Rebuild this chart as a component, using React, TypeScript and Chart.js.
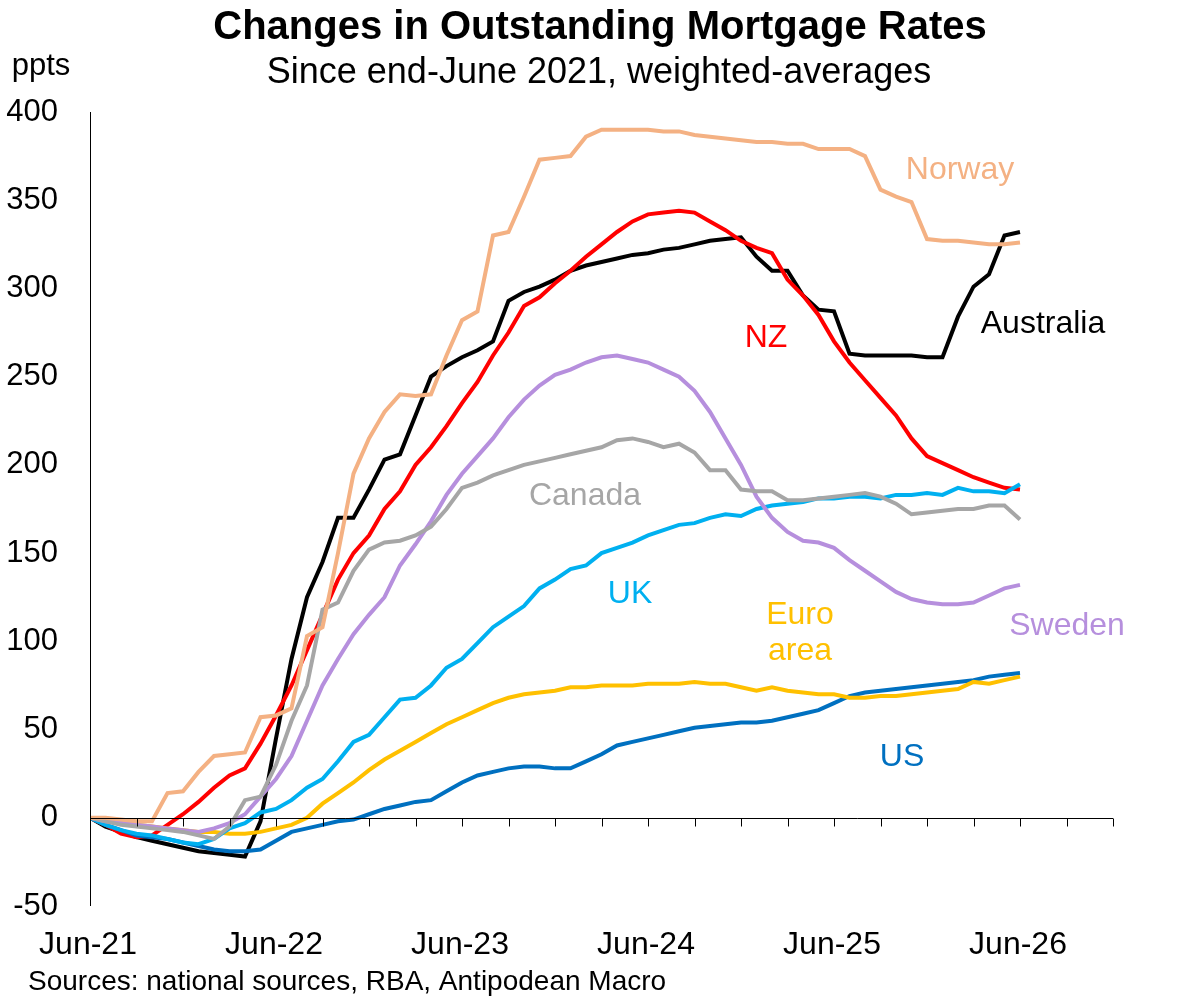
import React, { useEffect, useRef } from "react";
import { Chart, registerables } from "chart.js";
Chart.register(...registerables);

const months = Array.from({ length: 61 }, (_, i) => i);
const xLabels = ["Jun-21", "Jun-22", "Jun-23", "Jun-24", "Jun-25", "Jun-26"];
const yTicks = [-50, 0, 50, 100, 150, 200, 250, 300, 350, 400];

const norway = [0,0,-1,-2,-2,14,15,26,35,36,37,57,58,62,103,108,150,195,215,230,240,239,240,262,282,287,330,332,352,373,374,375,386,390,390,390,390,389,389,387,386,385,384,383,383,382,382,379,379,379,375,356,352,349,328,327,327,326,325,325,326];
const australia = [0,-5,-8,-11,-13,-15,-17,-19,-20,-21,-22,-2,45,90,125,145,170,170,186,203,206,228,250,256,261,265,270,293,298,301,305,310,313,315,317,319,320,322,323,325,327,328,329,318,310,310,296,288,287,263,262,262,262,262,261,261,284,301,308,330,332];
const nz = [0,-4,-9,-11,-10,-4,2,9,17,24,28,42,58,75,95,115,135,150,160,175,185,200,210,222,235,247,262,275,290,295,303,310,318,325,332,338,342,343,344,343,338,333,327,323,320,305,296,285,270,258,248,238,228,215,205,201,197,193,190,187,186];
const canada = [0,-2,-4,-5,-6,-7,-8,-10,-12,-5,10,12,30,55,75,118,122,140,152,156,157,160,165,175,187,190,194,197,200,202,204,206,208,210,214,215,213,210,212,207,197,197,186,185,185,180,180,181,182,183,184,182,178,172,173,174,175,175,177,177,169];
const sweden = [0,-2,-3,-4,-5,-6,-7,-8,-6,-3,2,12,22,35,55,75,90,104,115,125,143,155,168,183,195,205,215,227,237,245,251,254,258,261,262,260,258,254,250,242,230,215,200,182,170,162,157,156,153,146,140,134,128,124,122,121,121,122,126,130,132];
const uk = [0,-4,-7,-9,-10,-12,-14,-15,-12,-6,-3,3,5,10,17,22,32,43,47,57,67,68,75,85,90,99,108,114,120,130,135,141,143,150,153,156,160,163,166,167,170,172,171,175,177,178,179,181,181,182,182,181,183,183,184,183,187,185,185,184,189];
const euro = [0,-2,-3,-4,-5,-6,-7,-8,-8,-9,-9,-8,-6,-4,0,8,14,20,27,33,38,43,48,53,57,61,65,68,70,71,72,74,74,75,75,75,76,76,76,77,76,76,74,72,74,72,71,70,70,68,68,69,69,70,71,72,73,77,76,78,80];
const us = [0,-4,-7,-10,-11,-12,-14,-16,-18,-19,-19,-18,-13,-8,-6,-4,-2,-1,2,5,7,9,10,15,20,24,26,28,29,29,28,28,32,36,41,43,45,47,49,51,52,53,54,54,55,57,59,61,65,69,71,72,73,74,75,76,77,78,80,81,82];

const series = [
  { name: "Norway", data: norway, color: "#F4B183" },
  { name: "Canada", data: canada, color: "#A6A6A6" },
  { name: "Sweden", data: sweden, color: "#B68FDD" },
  { name: "UK", data: uk, color: "#00B0F0" },
  { name: "Euro area", data: euro, color: "#FFC000" },
  { name: "US", data: us, color: "#0070C0" },
  { name: "NZ", data: nz, color: "#FF0000" },
  { name: "Australia", data: australia, color: "#000000" },
];

const labels = [
  { text: ["Norway"], x: 960, y: 170, color: "#F4B183" },
  { text: ["Australia"], x: 1043, y: 324, color: "#000000" },
  { text: ["NZ"], x: 766, y: 338, color: "#FF0000" },
  { text: ["Canada"], x: 585, y: 496, color: "#A6A6A6" },
  { text: ["UK"], x: 630, y: 594, color: "#00B0F0" },
  { text: ["Euro", "area"], x: 800, y: 615, color: "#FFC000" },
  { text: ["Sweden"], x: 1067, y: 626, color: "#B68FDD" },
  { text: ["US"], x: 902, y: 757, color: "#0070C0" },
];

const FONT = "'Liberation Sans', Arial, sans-serif";

const decor = {
  id: "decor",
  afterDatasetsDraw(chart: any) {
    const ctx = chart.ctx;
    const xs = chart.scales.x, ys = chart.scales.y;
    const ca = chart.chartArea;
    ctx.save();
    ctx.strokeStyle = "#000";
    ctx.lineWidth = 1;
    ctx.beginPath();
    ctx.moveTo(ca.left + 0.5, ys.getPixelForValue(400));
    ctx.lineTo(ca.left + 0.5, ys.getPixelForValue(-50));
    ctx.stroke();
    const y0 = Math.round(ys.getPixelForValue(0)) + 0.5;
    ctx.beginPath();
    ctx.moveTo(ca.left, y0);
    ctx.lineTo(ca.right, y0);
    for (let m = 0; m <= 66; m += 3) {
      const px = Math.round(xs.getPixelForValue(m)) + 0.5;
      ctx.moveTo(px, y0);
      ctx.lineTo(px, y0 + 8);
    }
    ctx.stroke();
    ctx.fillStyle = "#000";
    ctx.font = `31px ${FONT}`;
    ctx.textAlign = "right";
    ctx.textBaseline = "middle";
    yTicks.forEach((v) => ctx.fillText(String(v), 58, ys.getPixelForValue(v)));
    ctx.textAlign = "center";
    ctx.font = `32px ${FONT}`;
    xLabels.forEach((t, i) => ctx.fillText(t, xs.getPixelForValue(i * 12) - 2, 945));
    ctx.font = `bold 40px ${FONT}`;
    ctx.fillText("Changes in Outstanding Mortgage Rates", 600, 28);
    ctx.font = `36px ${FONT}`;
    ctx.fillText("Since end-June 2021, weighted-averages", 599, 73);
    ctx.font = `31px ${FONT}`;
    ctx.fillText("ppts", 41, 66);
    ctx.textAlign = "left";
    ctx.font = `28px ${FONT}`;
    ctx.fillText("Sources: national sources, RBA, Antipodean Macro", 28, 982);
    ctx.textAlign = "center";
    ctx.font = `32px ${FONT}`;
    labels.forEach((l) => {
      ctx.fillStyle = l.color;
      l.text.forEach((t, i) => ctx.fillText(t, l.x, l.y + i * 36));
    });
    ctx.restore();
  },
};

export default function App() {
  const ref = useRef<HTMLCanvasElement>(null);
  useEffect(() => {
    const chart = new Chart(ref.current!, {
      type: "line",
      data: {
        datasets: series.map((s) => ({
          label: s.name,
          data: months.map((m, i) => ({ x: m, y: s.data[i] })),
          borderColor: s.color,
          borderWidth: 4,
          pointRadius: 0,
          tension: 0,
          fill: false,
        })),
      },
      options: {
        animation: false,
        responsive: false,
        devicePixelRatio: 1,
        layout: { padding: { left: 90, right: 72, top: 112, bottom: 95 } },
        plugins: { legend: { display: false }, tooltip: { enabled: false }, title: { display: false } },
        scales: {
          x: { type: "linear", min: 0, max: 66, display: false },
          y: { type: "linear", min: -50, max: 400, display: false },
        },
      },
      plugins: [decor],
    });
    return () => chart.destroy();
  }, []);
  return (
    <div style={{ position: "absolute", left: 0, top: 0, width: 1185, height: 1001, background: "#fff" }}>
      <canvas ref={ref} width={1185} height={1001} style={{ width: 1185, height: 1001 }} />
    </div>
  );
}
